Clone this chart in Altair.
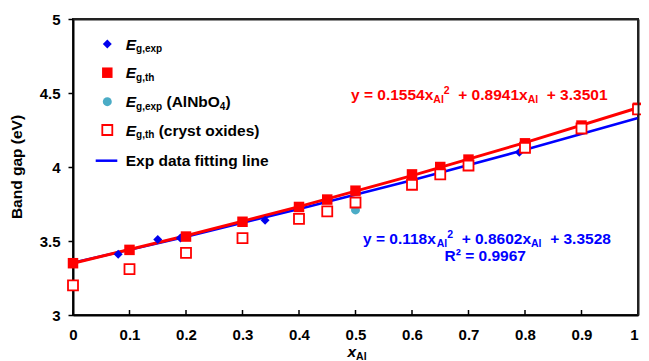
import altair as alt
import pandas as pd

# ---------------- data ----------------
th_x = [0, 0.1, 0.2, 0.3, 0.4, 0.45, 0.5, 0.6, 0.65, 0.7, 0.8, 0.9, 1.0]
th_y = [3.35, 3.44, 3.53, 3.63, 3.73, 3.78, 3.84, 3.95, 4.00, 4.05, 4.16, 4.28, 4.40]
cryst_x = [0, 0.1, 0.2, 0.3, 0.4, 0.45, 0.5, 0.6, 0.65, 0.7, 0.8, 0.9, 1.0]
cryst_y = [3.20, 3.31, 3.42, 3.52, 3.65, 3.70, 3.76, 3.88, 3.95, 4.01, 4.13, 4.26, 4.39]
exp_x = [0, 0.08, 0.15, 0.19, 0.34, 0.79]
exp_y = [3.35, 3.41, 3.51, 3.52, 3.64, 4.10]
nbo_x = [0.5]
nbo_y = [3.71]
fit_x = [0, 0.2, 0.4, 0.6, 0.8, 1.0]
fit_exp_y = [3.353, 3.529, 3.716, 3.911, 4.116, 4.331]
fit_th_y = [3.350, 3.535, 3.732, 3.942, 4.165, 4.400]
x_ticks = [0, 0.1, 0.2, 0.3, 0.4, 0.5, 0.6, 0.7, 0.8, 0.9, 1]
y_ticks = [3, 3.5, 4, 4.5, 5]

FONT = "Liberation Sans"
W, H = 565, 296
PADL, PADT = 65, 11
RED = "#FF0000"
BLUE = "#0000FF"
CYAN = "#4BACC6"
FRAME = "#222222"

xs = alt.Scale(domain=[0, 1], nice=False, zero=False)
ys = alt.Scale(domain=[3, 5], nice=False, zero=False)

x_axis = alt.Axis(values=x_ticks, format="~g", ticks=False, labelPadding=12, grid=False,
                  title=None, domainColor="black", domainWidth=2,
                  labelAlign={"condition": {"test": "datum.value >= 1", "value": "right"},
                              "value": "center"},
                  labelFont=FONT, labelFontWeight="bold", labelFontSize=15, labelColor="black")
y_axis = alt.Axis(values=y_ticks, format="~g", tickSize=5, tickWidth=1.5, tickColor="black",
                  labelPadding=8, grid=False, title=None, domainColor="black", domainWidth=2,
                  labelFont=FONT, labelFontWeight="bold", labelFontSize=15, labelColor="black")

X = alt.X("x:Q", scale=xs, axis=x_axis)
Y = alt.Y("y:Q", scale=ys, axis=y_axis)


def df(x, y):
    return pd.DataFrame({"x": x, "y": y})


one = pd.DataFrame({"a": [0]})

layers = []
layers.append(alt.Chart(df(fit_x, fit_exp_y)).mark_line(color=BLUE, strokeWidth=2.5).encode(x=X, y=Y))
layers.append(alt.Chart(df(fit_x, fit_th_y)).mark_line(color=RED, strokeWidth=3).encode(x=X, y=Y))
layers.append(alt.Chart(df(exp_x, exp_y)).mark_point(shape="diamond", filled=True, color="#0000EE",
                                                     size=80, opacity=1).encode(x=X, y=Y))
layers.append(alt.Chart(df(th_x, th_y)).mark_point(shape="square", filled=True, color=RED,
                                                   size=110, opacity=1).encode(x=X, y=Y))
layers.append(alt.Chart(df(nbo_x, nbo_y)).mark_point(shape="circle", filled=True, color=CYAN,
                                                     size=80, opacity=1).encode(x=X, y=Y))
layers.append(alt.Chart(df(cryst_x, cryst_y)).mark_point(shape="square", filled=True, fill="white",
                                                         stroke=RED, strokeWidth=1.8, size=100,
                                                         opacity=1).encode(x=X, y=Y))
# inward x ticks
layers.append(alt.Chart(pd.DataFrame({"x": x_ticks})).mark_rule(color="black", strokeWidth=1.5).encode(
    x=X, y=alt.value(H), y2=alt.value(H - 5)))

# ---------------- text helpers ----------------
CW = {" ": 278, "(": 333, ")": 333, "+": 584, ",": 278, ".": 278, "=": 584, "A": 722, "E": 667,
      "N": 722, "O": 778, "R": 722, "b": 611, "c": 556, "d": 611, "e": 556, "g": 611, "h": 611,
      "i": 278, "l": 278, "n": 611, "o": 611, "p": 611, "r": 389, "s": 556, "t": 333, "x": 556,
      "y": 556, "\u00b2": 333, "a": 556, "f": 333, "B": 722, "V": 667}


def tw(s, size):
    return sum(CW.get(c, 556) for c in s) * size / 1000.0


def text_run(parts, x0, y0, color):
    """parts: list of (text, size, dy, italic); left-aligned pieces on one baseline."""
    out = []
    off = 0.0
    for text, size, dy, ital in parts:
        s = text.lstrip(" ")
        off += tw(text[: len(text) - len(s)], size)
        out.append(alt.Chart(one).mark_text(
            text=s, align="left", baseline="alphabetic", font=FONT, fontWeight="bold",
            fontStyle="italic" if ital else "normal", fontSize=size, color=color
        ).encode(x=alt.value(x0 + off), y=alt.value(y0 + dy)))
        off += tw(s, size)
    return out


MS, SS = 15.5, 10.5
# equations
layers += text_run([("y = 0.1554x", MS, 0, False), ("Al", SS, 3, False), ("2", SS, -6, False),
                    ("  + 0.8941x", MS, 0, False), ("Al", SS, 3, False), ("  + 3.3501", MS, 0, False)],
                   278, 81, RED)
layers += text_run([("y = 0.118x", MS, 0, False), ("Al", SS, 3, False), ("2", SS, -6, False),
                    ("  + 0.8602x", MS, 0, False), ("Al", SS, 3, False), ("  + 3.3528", MS, 0, False)],
                   290, 224.5, BLUE)
layers += text_run([("R\u00b2 = 0.9967", MS, 0, False)], 371.5, 242, BLUE)

# legend
SX = 34.3
rows = [25, 53.7, 82.7, 111, 141.7]
TX = 52.7
LS = 10
layers.append(alt.Chart(one).mark_point(shape="diamond", filled=True, color="#0000EE", size=80, opacity=1)
              .encode(x=alt.value(SX), y=alt.value(rows[0])))
layers.append(alt.Chart(one).mark_point(shape="square", filled=True, color=RED, size=110, opacity=1)
              .encode(x=alt.value(SX), y=alt.value(rows[1])))
layers.append(alt.Chart(one).mark_point(shape="circle", filled=True, color=CYAN, size=80, opacity=1)
              .encode(x=alt.value(SX), y=alt.value(rows[2])))
layers.append(alt.Chart(one).mark_point(shape="square", filled=True, fill="white", stroke=RED,
                                        strokeWidth=1.8, size=100, opacity=1)
              .encode(x=alt.value(SX), y=alt.value(rows[3])))
layers.append(alt.Chart(one).mark_rule(color=BLUE, strokeWidth=2.5)
              .encode(x=alt.value(22.7), x2=alt.value(44.3), y=alt.value(rows[4])))
B = 5.5
layers += text_run([("E", MS, 0, True), ("g,exp", LS, 2.5, False)], TX, rows[0] + B, "black")
layers += text_run([("E", MS, 0, True), ("g,th", LS, 2.5, False)], TX, rows[1] + B, "black")
layers += text_run([("E", MS, 0, True), ("g,exp", LS, 2.5, False), (" (AlNbO", MS, 0, False),
                    ("4", LS, 2.5, False), (")", MS, 0, False)], TX, rows[2] + B, "black")
layers += text_run([("E", MS, 0, True), ("g,th", LS, 2.5, False), (" (cryst oxides)", MS, 0, False)],
                   TX, rows[3] + B, "black")
layers += text_run([("Exp data fitting line", MS, 0, False)], TX, rows[4] + B, "black")

# axis titles
layers += text_run([("x", MS, 0, True), ("Al", SS, 3, False)], W / 2 - 8, 338, "black")
layers.append(alt.Chart(one).mark_text(text="Band gap (eV)", angle=270, align="center", baseline="middle",
                                       font=FONT, fontWeight="bold", fontSize=15.5, color="black")
              .encode(x=alt.value(-56.5), y=alt.value(H / 2)))

main = alt.layer(*layers)

# frame: top and right edges drawn as extra (label-less) axes on the opposite sides
frame_x_axis = alt.Axis(orient="top", labels=False, ticks=False, grid=False, title=None,
                        domainColor=FRAME, domainWidth=2, zindex=1)
frame_y_axis = alt.Axis(orient="right", labels=False, ticks=False, grid=False, title=None,
                        domainColor=FRAME, domainWidth=2, zindex=1)
frame = alt.Chart(df([0.5], [4.0])).mark_point(opacity=0, size=1).encode(
    x=alt.X("x:Q", scale=xs, axis=frame_x_axis),
    y=alt.Y("y:Q", scale=ys, axis=frame_y_axis))

chart = alt.layer(main, frame).resolve_axis(x="independent", y="independent").properties(
    width=W, height=H, autosize=alt.AutoSizeParams(type="none"),
    padding={"left": PADL, "top": PADT, "right": 3, "bottom": 46},
    background="white",
).configure_view(stroke=FRAME, strokeWidth=2)

chart.save("out.html", embed_options={"renderer": "svg", "actions": False})
